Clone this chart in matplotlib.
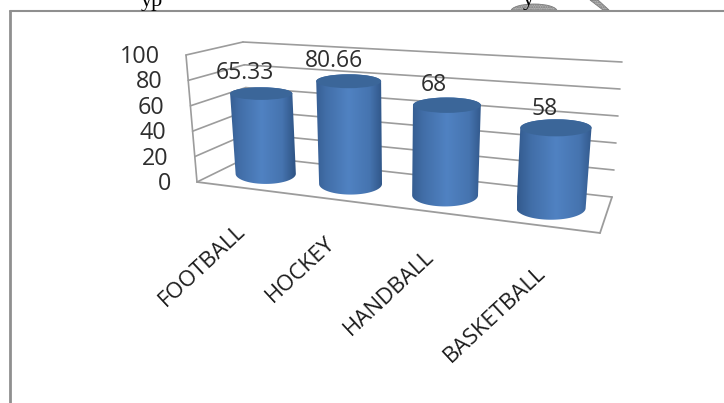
# -*- coding: utf-8 -*-
import numpy as np
import matplotlib
matplotlib.use('Agg')
import matplotlib.pyplot as plt
from matplotlib.patches import Ellipse, Polygon

categories = ['FOOTBALL', 'HOCKEY', 'HANDBALL', 'BASKETBALL']
values = [65.33, 80.66, 68, 58]
value_labels = ['65.33', '80.66', '68', '58']
ticks = [0, 20, 40, 60, 80, 100]

plt.rcParams['font.family'] = ['Open Sans', 'DejaVu Sans']
GRID = '#9c9c9c'
TEXT = '#2e2e2e'

# corners of the fake 3d box in pixels: (front/back, left/right, bottom/top)
FLB, FLT = np.array([197., 182.]), np.array([186., 55.])
FRB, FRT = np.array([600., 233.]), np.array([613., 85.])
BLB, BLT = np.array([250., 156.]), np.array([243., 42.])
BRB, BRT = np.array([612., 197.]), np.array([622., 62.])


def project(u, depth, v):
    # u 0..1 along the categories, depth 0 front 1 back, v is the value
    u = 0.8 * u / (1 - 0.2 * u)
    t = v / 100.0
    bottom = (1 - depth) * ((1 - u) * FLB + u * FRB) + depth * ((1 - u) * BLB + u * BRB)
    top = (1 - depth) * ((1 - u) * FLT + u * FRT) + depth * ((1 - u) * BLT + u * BRT)
    return (1 - t) * bottom + t * top


def line(ax, a, b, lw=1.2, color=GRID):
    ax.plot([a[0], b[0]], [a[1], b[1]], color=color, lw=lw, solid_capstyle='round', zorder=2)


def cylinder(ax, bottom, top, rx, ry_top, ry_bot):
    # body = side walls + lower half of the bottom ellipse + lower half of the top one
    th = np.linspace(0, np.pi, 60)
    low_x = bottom[0] + (rx - 1) * np.cos(th)
    low_y = bottom[1] + ry_bot * np.sin(th)
    up_x = top[0] + rx * np.cos(th[::-1])
    up_y = top[1] - ry_top * np.sin(th[::-1])
    pts = np.column_stack([np.r_[low_x, up_x], np.r_[low_y, up_y]])
    body = Polygon(pts, closed=True, facecolor='none', edgecolor='none')
    ax.add_patch(body)
    shade = np.interp(np.linspace(0, 1, 256), [0, 0.18, 0.5, 0.8, 1],
                      [0.2, 0.6, 1, 0.72, 0.05])
    dark = np.array([0x2c, 0x50, 0x80]) / 255.0
    light = np.array([0x50, 0x82, 0xc2]) / 255.0
    grad = dark + shade[None, :, None] * (light - dark)
    im = ax.imshow(grad, extent=[top[0] - rx - 3, top[0] + rx + 3, bottom[1] + ry_bot + 2,
                                 top[1] - ry_top - 2],
                   aspect='auto', zorder=3, interpolation='bilinear')
    im.set_clip_path(body)
    ax.add_patch(Ellipse(top, 2 * rx, 2 * ry_top, facecolor='#3b6699', edgecolor='none', zorder=4))


fig = plt.figure(figsize=(7.24, 4.03), dpi=100)
ax = fig.add_axes([0, 0, 1, 1])

# page border around the pasted chart
line(ax, (10, 403), (10, 11), lw=2.0, color='#8f8f8f')
line(ax, (10, 11), (724, 11), lw=1.5, color='#8f8f8f')

# leftovers of the page above the border
ax.text(152, 6, 'yp', family='Liberation Serif', fontsize=16, color='black', ha='center',
        va='baseline')
ax.text(528, 5, 'y', family='Liberation Serif', fontsize=16, color='black', ha='center',
        va='baseline')
ax.add_patch(Ellipse((534, 11), 46, 14, facecolor='#b5b5b5', edgecolor='#7c7c7c', lw=0.6,
                     hatch='.......', zorder=1))
ax.add_patch(Polygon([(590, 0), (598, 0), (609, 10), (603, 10)], closed=True,
                     facecolor='#b5b5b5', edgecolor='#7c7c7c', lw=0.6, hatch='.......', zorder=1))
ax.add_patch(Polygon([(0, 12), (724, 12), (724, 20), (0, 20)], closed=True, facecolor='white',
                     edgecolor='none', zorder=1.5))

# walls
for t in ticks:
    line(ax, project(0, 0, t), project(0, 1, t))
    line(ax, project(0, 1, t), project(1, 1, t))
    ax.text(project(0, 0, t)[0] - 26, project(0, 0, t)[1] + 2, str(t), ha='right', va='center',
            fontsize=16.8, color=TEXT)
line(ax, project(0, 0, 0), project(0, 0, 100))
line(ax, project(0, 0, 0), project(1, 0, 0), lw=1.3)
line(ax, project(1, 0, 0), project(1, 1, 0), lw=1.3)

for i, (name, val, lab) in enumerate(zip(categories, values, value_labels)):
    u = (i + 0.5) / len(categories)
    f = 0.8 * u / (1 - 0.2 * u)
    shift = np.array([3.0, 0.0])
    bottom = project(u, 0.5, 0) + shift
    top = project(u, 0.5, val) + shift
    cylinder(ax, bottom, top, 30.5 + 6 * f, 6 + 3 * f, 10 + 2 * f)
    ax.text(top[0] - 17 + 7 * f, top[1] - 21 + 2 * f, lab, ha='center', va='center', fontsize=16.5,
            color=TEXT, zorder=5)
    front = project(u, 0, 0)
    ax.text(front[0] + 4, front[1] + 40 + 5 * f, name, rotation=43, rotation_mode='anchor',
            ha='right', va='center', fontsize=16, color='#1c1c1c', zorder=5)

ax.set_xlim(0, 724)
ax.set_ylim(403, 0)
ax.axis('off')
fig.savefig('out.png', dpi=100, facecolor='white')
